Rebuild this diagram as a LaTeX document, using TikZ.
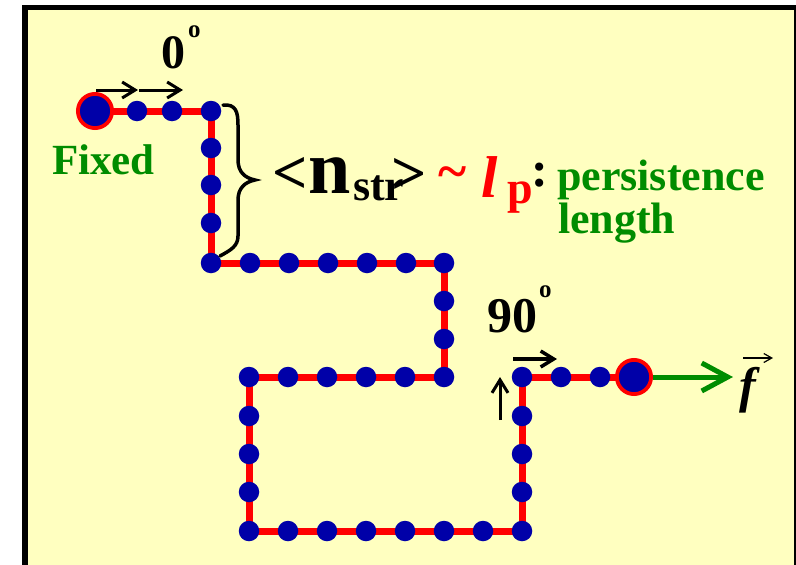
\documentclass[tikz,border=0pt]{standalone}
\usepackage{fontspec}
\setmainfont{Liberation Serif}
\usetikzlibrary{arrows.meta}
\definecolor{bgyellow}{RGB}{255,255,192}
\definecolor{beadblue}{RGB}{0,0,168}
\definecolor{chainred}{RGB}{255,0,0}
\definecolor{txtgreen}{RGB}{0,140,0}
\newcommand{\myfs}[1]{\fontsize{#1}{#1}\selectfont}
\pgfdeclarelayer{back}
\pgfdeclarelayer{chainlayer}
\pgfsetlayers{back,chainlayer,main}
\begin{document}
\begin{tikzpicture}[x=1pt,y=-1pt,
  bead/.style={circle,fill=beadblue,inner sep=0pt,minimum size=20.5pt},
  bigbead/.style={circle,fill=beadblue,draw=chainred,line width=3.8pt,inner sep=0pt,minimum size=34.2pt},
  chain/.style={draw=chainred,line width=7pt},
  vecarrow/.style={line width=3pt,-{Straight Barb[length=13pt,width=16pt]}},
  lbl/.style={inner sep=0pt,outer sep=0pt,font=\bfseries},
]
\useasboundingbox (0,0) rectangle (796,565);
\begin{pgfonlayer}{back}
  \fill[white] (0,0) rectangle (796,565);
  \begin{scope}
    \clip (0,0) rectangle (796,565);
    \draw[fill=bgyellow,line width=5.5pt] (25,7.5) rectangle (797,600);
  \end{scope}
\end{pgfonlayer}

% beads
\foreach \i/\x/\y in {1/137/111,2/172/111,3/211/111,4/211/148,5/211/185,6/211/223,7/211/263,
  8/250/263,9/289/263,10/328/263,11/367/263,12/406/263,13/444/263,
  14/444/301,15/444/339,16/444/377,
  17/405/377,18/366/377,19/327/377,20/288/377,21/249/377,
  22/249/416,23/249/454,24/249/492,25/249/531,
  26/288/531,27/327/531,28/366/531,29/405/531,30/444/531,31/483/531,32/522/531,
  33/522/492,34/522/454,35/522/416,36/522/377,
  37/561/377,38/600/377}
  \node[bead] (b\i) at (\x,\y) {};
\node[bigbead] (fixed) at (95,111) {};
\node[bigbead] (pull) at (634,377) {};

\begin{pgfonlayer}{chainlayer}
  \draw[chain] (fixed.center) foreach \i in {1,...,38}{ -- (b\i.center)} -- (pull.center);
\end{pgfonlayer}

% brace
\draw[line width=3.5pt,line cap=round] (223,105) .. controls (236,104) and (238,112) .. (238,125)
  -- (238,160) .. controls (238,172) and (245,178) .. (255,180)
  .. controls (245,182) and (238,188) .. (238,200)
  -- (238,236) .. controls (238,246) and (231,250) .. (220,256);

% labels
\node[lbl,anchor=base west,text=txtgreen] (fixedtxt) at (52,174) {\myfs{43}Fixed};
\node[lbl,anchor=base west] (zero) at (161,68) {\myfs{48}0\hspace{3pt}\raisebox{31pt}{\myfs{25}o}};
\node[lbl,anchor=base west] (ninety) at (487,332) {\myfs{50}90\hspace{2pt}\raisebox{35pt}{\myfs{25}o}};

\node[lbl] (lt) at (290,175) {\myfs{62}<};
\node[lbl,anchor=base west] (nn) at (308,193) {\myfs{76}n};
\node[lbl,anchor=base west] (str) at (353,200) {\myfs{44}str};
\node[lbl] (gt) at (409,176) {\myfs{62}>};
\node[lbl,text=chainred] (tilde) at (453,178) {\myfs{54}\textasciitilde};
\node[lbl,anchor=base west,text=chainred] (ell) at (481,197) {\myfs{59}\itshape l};
\node[lbl,anchor=base west,text=chainred] (pp) at (507,203) {\myfs{46}p};
\node[lbl] (colon) at (540,175) {\myfs{50}:};
\node[lbl,anchor=base west,text=txtgreen] (pers) at (557,190) {\myfs{44}persistence};
\node[lbl,anchor=base west,text=txtgreen] (len) at (558,233) {\myfs{44}length};

% force
\node[lbl] (f) at (748,390) {\myfs{50}\itshape f};
\coordinate (fa1) at (743,358);
\coordinate (fa2) at (773,358);
\draw[line width=1.2pt,-{Straight Barb[length=8pt,width=9pt]}] (fa1) -- (fa2);
\coordinate (gend) at (733,377);
\draw[draw=txtgreen,line width=5pt,-{Straight Barb[length=26pt,width=28pt]}] (pull.east) -- (gend);

% direction vectors
\coordinate (a1s) at (96,90);  \coordinate (a1e) at (138,90);
\coordinate (a2s) at (139,90); \coordinate (a2e) at (183,90);
\draw[vecarrow] (a1s) -- (a1e);
\draw[vecarrow] (a2s) -- (a2e);
\coordinate (a3s) at (513,359); \coordinate (a3e) at (557,359);
\coordinate (a4s) at (500,420); \coordinate (a4e) at (500,377);
\draw[vecarrow,line width=3.5pt] (a3s) -- (a3e);
\draw[vecarrow] (a4s) -- (a4e);
\end{tikzpicture}
\end{document}
